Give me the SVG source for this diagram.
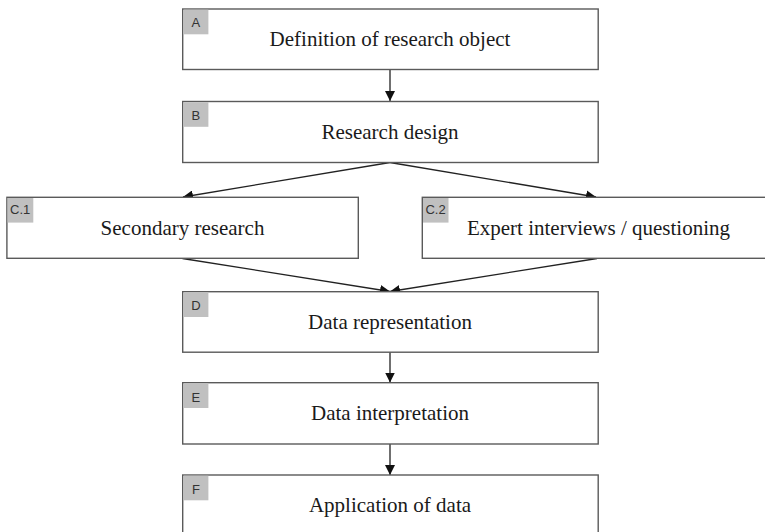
<svg xmlns="http://www.w3.org/2000/svg" width="765" height="532" viewBox="0 0 765 532">
  <style>
    .box { fill: #ffffff; stroke: #5a5a5a; stroke-width: 1.4; }
    .tag { fill: #c0c0c0; }
    .tagtxt { font-family: "Liberation Sans", Arial, sans-serif; font-size: 13px; fill: #333333; text-anchor: middle; }
    .txt { font-family: "Liberation Serif", "Times New Roman", serif; font-size: 21px; fill: #1a1a1a; text-anchor: middle; }
    .edge { stroke: #222222; stroke-width: 1.3; fill: none; marker-end: url(#arrow); }
  </style>
  <defs>
    <marker id="arrow" viewBox="0 0 10 10" refX="10" refY="5" markerWidth="10" markerHeight="10" markerUnits="userSpaceOnUse" orient="auto">
      <path d="M0,0 L10,5 L0,10 Z" fill="#111111"/>
    </marker>
  </defs>

  <rect width="765" height="532" fill="#ffffff"/>

  <!-- connectors -->
  <g id="connectors">
    <line class="edge" x1="390" y1="69" x2="390" y2="101"/>
    <line class="edge" x1="390" y1="162.5" x2="183" y2="197"/>
    <line class="edge" x1="390" y1="162.5" x2="596" y2="197"/>
    <line class="edge" x1="182.5" y1="258.5" x2="390" y2="291.5"/>
    <line class="edge" x1="597" y1="258.5" x2="390" y2="291.5"/>
    <line class="edge" x1="390" y1="352" x2="390" y2="382.5"/>
    <line class="edge" x1="390" y1="444" x2="390" y2="475"/>
  </g>

  <!-- A -->
  <g id="node-A">
    <rect class="box" x="182.7" y="9" width="415.5" height="60.5"/>
    <rect class="tag" x="183.4" y="9.7" width="25" height="24.6"/>
    <text class="tagtxt" x="195.9" y="27.3">A</text>
    <text class="txt" x="390" y="46">Definition of research object</text>
  </g>

  <!-- B -->
  <g id="node-B">
    <rect class="box" x="182.7" y="101.5" width="415.5" height="61"/>
    <rect class="tag" x="183.4" y="102.2" width="25" height="24.6"/>
    <text class="tagtxt" x="195.9" y="119.5">B</text>
    <text class="txt" x="390" y="138.5">Research design</text>
  </g>

  <!-- C.1 -->
  <g id="node-C1">
    <rect class="box" x="6.9" y="197.3" width="351.4" height="61"/>
    <rect class="tag" x="7.6" y="198" width="25.7" height="24.6"/>
    <text class="tagtxt" x="20.2" y="213.6">C.1</text>
    <text class="txt" x="182.5" y="234.5">Secondary research</text>
  </g>

  <!-- C.2 -->
  <g id="node-C2">
    <rect class="box" x="422.3" y="197.3" width="352" height="61"/>
    <rect class="tag" x="423" y="198" width="25.5" height="24.6"/>
    <text class="tagtxt" x="435.5" y="214">C.2</text>
    <text class="txt" x="598.5" y="234.5">Expert interviews / questioning</text>
  </g>

  <!-- D -->
  <g id="node-D">
    <rect class="box" x="182.7" y="291.7" width="415.5" height="60.5"/>
    <rect class="tag" x="183.4" y="292.4" width="25" height="24.6"/>
    <text class="tagtxt" x="195.9" y="310">D</text>
    <text class="txt" x="390" y="328.7">Data representation</text>
  </g>

  <!-- E -->
  <g id="node-E">
    <rect class="box" x="182.7" y="382.7" width="415.5" height="61.3"/>
    <rect class="tag" x="183.4" y="383.4" width="25" height="24.6"/>
    <text class="tagtxt" x="195.9" y="401.5">E</text>
    <text class="txt" x="390" y="420">Data interpretation</text>
  </g>

  <!-- F -->
  <g id="node-F">
    <rect class="box" x="182.7" y="475" width="415.5" height="70"/>
    <rect class="tag" x="183.4" y="475.7" width="25" height="24.6"/>
    <text class="tagtxt" x="195.9" y="493.5">F</text>
    <text class="txt" x="390" y="512.3">Application of data</text>
  </g>
</svg>
